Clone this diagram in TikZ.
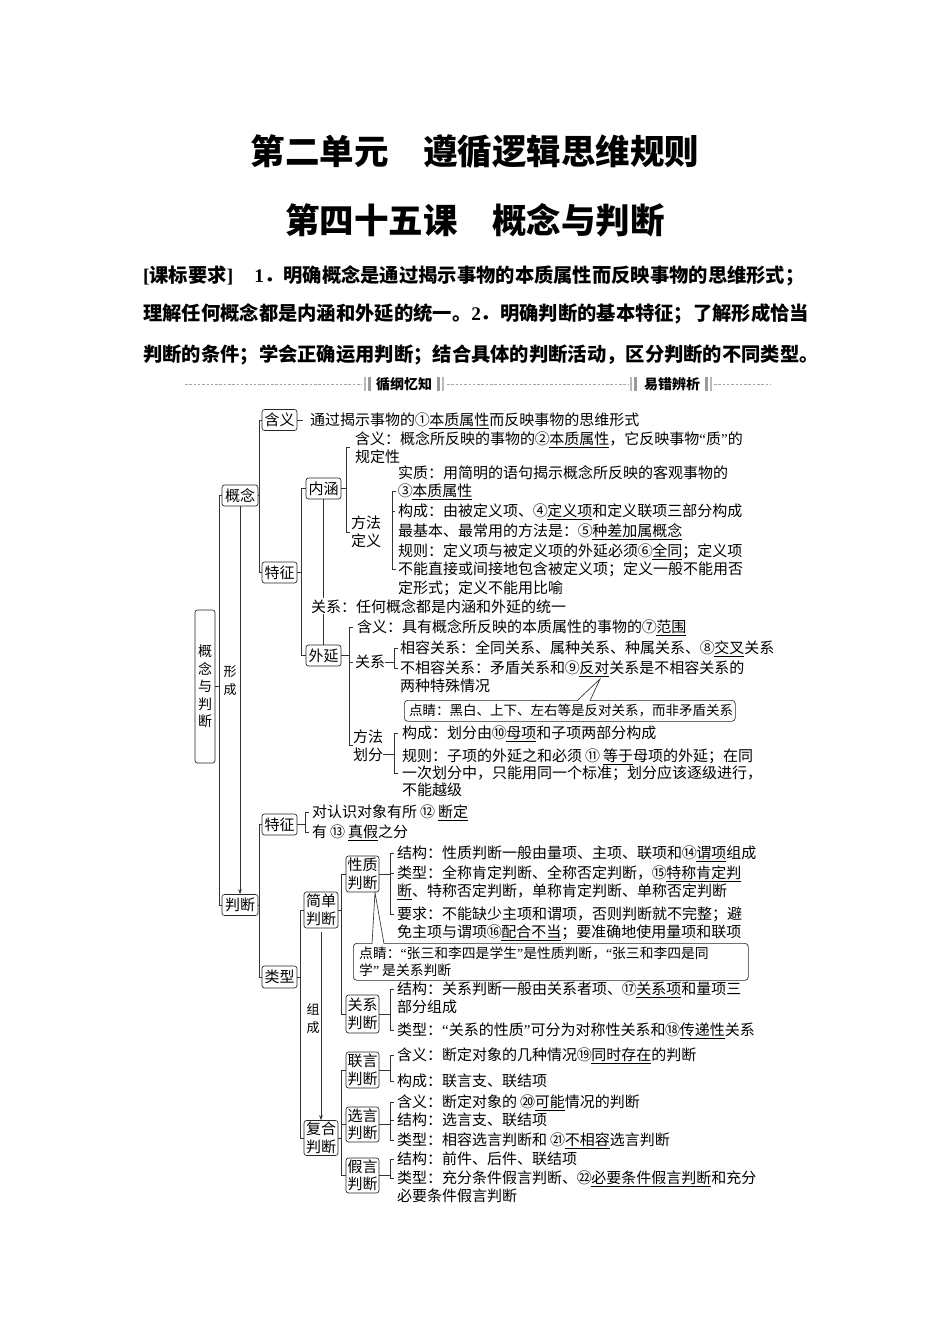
\documentclass[tikz,border=0pt]{standalone}
\usepackage{fontspec}
\setmainfont{Noto Sans CJK SC}
\newfontfamily\tnr{Liberation Serif}
\usetikzlibrary{arrows.meta}
\XeTeXlinebreaklocale "zh"
\XeTeXlinebreakskip=0pt plus 3pt
\newcommand\fs{\fontsize{15}{18}\selectfont}
\newcommand\ul[1]{\underline{#1}}
\newcommand\cn[1]{\makebox[0.95em][c]{#1}}
\newcommand\lqt{{\tnr “}}
\newcommand\rqt{{\tnr ”}}
\begin{document}
\begin{tikzpicture}[x=1pt,y=-1pt,
  box/.style={draw=black!85, rounded corners=2.5pt, line width=0.65pt, inner sep=0pt, font=\fs, align=center, minimum width=35pt, minimum height=21pt},
  boxb/.style={box, font=\fontsize{15}{17.5}\selectfont, minimum width=34pt, minimum height=36pt},
  t/.style={anchor=base west, inner sep=0pt, font=\fs},
  ln/.style={draw=black!80, line width=0.65pt},
  cal/.style={draw=black!85, rounded corners=3.5pt, line width=0.65pt, inner sep=0pt},
  lab/.style={inner sep=0pt, font=\fs, align=center},
  arr/.style={ln, -{Stealth[length=5pt,width=3.6pt]}},
  req/.style={anchor=base west, inner sep=0pt, font=\fontsize{19.3}{20}\selectfont\bfseries},
  sepl/.style={draw=gray!70, line width=0.5pt, dash pattern=on 2.5pt off 1.8pt},
]
\useasboundingbox (0,0) rectangle (950,1344);
\fill[white] (0,0) rectangle (950,1344);

% ---------- titles ----------
\node[inner sep=0pt, font=\fontsize{34.5}{36}\selectfont\bfseries] (title1) at (475,152) {第二单元\hspace{1em}遵循逻辑思维规则};
\node[inner sep=0pt, font=\fontsize{34.5}{36}\selectfont\bfseries] (title2) at (475,220) {第四十五课\hspace{1em}概念与判断};

\node[req] (req1) at (143,282.3) {\makebox[663pt][s]{{\tnr\bfseries[}课标要求{\tnr\bfseries]}\hspace{1.1em}{\tnr\bfseries 1}．明确概念是通过揭示事物的本质属性而反映事物的思维形式；}};
\node[req] (req2) at (143,320.3) {\makebox[663pt][s]{理解任何概念都是内涵和外延的统一。{\tnr\bfseries 2}．明确判断的基本特征；了解形成恰当}};
\node[req] (req3) at (143,361.3) {\makebox[663pt][s]{判断的条件；学会正确运用判断；结合具体的判断活动，区分判断的不同类型。}};

% ---------- separator ----------
\draw[sepl] (185,384) -- (362,384);
\fill[gray!55] (364,377) rectangle (366,391);
\fill[gray!80] (368,377) rectangle (371,391);
\node[inner sep=0pt, font=\fontsize{14}{15}\selectfont\bfseries] (sep1) at (404,384) {循纲忆知};
\fill[gray!80] (437,377) rectangle (440,391);
\fill[gray!55] (442,377) rectangle (444,391);
\draw[sepl] (447,384) -- (628,384);
\fill[gray!55] (630,377) rectangle (632,391);
\fill[gray!80] (634,377) rectangle (637,391);
\node[inner sep=0pt, font=\fontsize{14}{15}\selectfont\bfseries] (sep2) at (672,384) {易错辨析};
\fill[gray!80] (705,377) rectangle (708,391);
\fill[gray!55] (710,377) rectangle (712,391);
\draw[sepl] (714,384) -- (770,384);

% ---------- boxes ----------
\node[box, minimum width=20pt, minimum height=153pt, font=\fontsize{14}{17.5}\selectfont] (root) at (205,686.5) {概\\念\\与\\判\\断};
\node[box, minimum width=36pt] (gn) at (240,495.5) {概念};
\node[box, minimum width=36pt] (pd) at (240,905) {判断};
\node[box] (hy) at (279.5,420) {含义};
\node[box] (tz1) at (279.5,572.5) {特征};
\node[box] (nh) at (323.5,488.5) {内涵};
\node[box] (wy) at (323.5,655.5) {外延};
\node[box] (tz2) at (279.5,824.5) {特征};
\node[box, minimum height=22pt] (lx) at (279.5,977) {类型};
\node[boxb] (jd) at (321,910) {简单\\判断};
\node[boxb, minimum height=35pt] (fh) at (321,1138) {复合\\判断};
\node[boxb, minimum width=33pt] (xz) at (362.5,874) {性质\\判断};
\node[boxb, minimum width=33pt, minimum height=38pt] (gxpd) at (362.5,1014) {关系\\判断};
\node[boxb, minimum width=33pt] (ly) at (362.5,1070) {联言\\判断};
\node[boxb, minimum width=33pt, minimum height=35pt] (xy) at (362.5,1124.5) {选言\\判断};
\node[boxb, minimum width=33pt, minimum height=35pt] (jy) at (362.5,1175.5) {假言\\判断};

% ---------- labels ----------
\node[lab, font=\fontsize{13}{18}\selectfont] (xc) at (230,681) {形\\成};
\node[lab, font=\fontsize{13}{18}\selectfont] (zc) at (313,1019) {组\\成};
\node[lab] (ffdy) at (366,532) {方法\\定义};
\node[lab] (gxl) at (370,662) {关系};
\node[lab] (ffhf) at (368,745.5) {方法\\划分};

% ---------- texts ----------
\node[t] (t1) at (310,425.5) {通过揭示事物的\cn{①}\ul{本质属性}而反映事物的思维形式};
\node[t] (t2) at (355,444.5) {含义：概念所反映的事物的\cn{②}\ul{本质属性}，它反映事物\lqt 质\rqt 的};
\node[t] (t3) at (355,462.5) {规定性};
\node[t] (t4) at (398,478.5) {实质：用简明的语句揭示概念所反映的客观事物的};
\node[t] (t5) at (398,496.5) {\cn{③}\ul{本质属性}};
\node[t] (t6) at (398,516.5) {构成：由被定义项、\cn{④}\ul{定义项}和定义联项三部分构成};
\node[t] (t7) at (398,536.5) {最基本、最常用的方法是：\cn{⑤}\ul{种差加属概念}};
\node[t] (t8) at (398,556.5) {规则：定义项与被定义项的外延必须\cn{⑥}\ul{全同}；定义项};
\node[t] (t9) at (398,574.5) {不能直接或间接地包含被定义项；定义一般不能用否};
\node[t] (t10) at (398,593.5) {定形式；定义不能用比喻};
\node[t] (t11) at (311,612.5) {关系：任何概念都是内涵和外延的统一};
\node[t] (t12) at (357,632.5) {含义：具有概念所反映的本质属性的事物的\cn{⑦}\ul{范围}};
\node[t] (t13) at (400,653.5) {相容关系：全同关系、属种关系、种属关系、\cn{⑧}\ul{交叉}关系};
\node[t] (t14) at (400,673.5) {不相容关系：矛盾关系和\cn{⑨}\ul{反对}关系是不相容关系的};
\node[t] (t15) at (400,691.5) {两种特殊情况};
\node[t] (t16) at (402,738.5) {构成：划分由\cn{⑩}\ul{母项}和子项两部分构成};
\node[t] (t17) at (402,761.5) {规则：子项的外延之和必须 \cn{⑪} \ul{等于}母项的外延；在同};
\node[t] (t18) at (402,778.5) {一次划分中，只能用同一个标准；划分应该逐级进行，};
\node[t] (t19) at (402,795.5) {不能越级};
\node[t] (t20) at (312,817.5) {对认识对象有所 \cn{⑫} \ul{断定}};
\node[t] (t21) at (312,837.5) {有 \cn{⑬} \ul{真假}之分};
\node[t] (t22) at (397,858.5) {结构：性质判断一般由量项、主项、联项和\cn{⑭}\ul{谓项}组成};
\node[t] (t23) at (397,878.5) {类型：全称肯定判断、全称否定判断，\cn{⑮}\ul{特称肯定判}};
\node[t] (t24) at (397,896.5) {\ul{断}、特称否定判断，单称肯定判断、单称否定判断};
\node[t] (t25) at (397,919.5) {要求：不能缺少主项和谓项，否则判断就不完整；避};
\node[t] (t26) at (397,937.5) {免主项与谓项\cn{⑯}\ul{配合不当}；要准确地使用量项和联项};
\node[t] (t27) at (397,994.5) {结构：关系判断一般由关系者项、\cn{⑰}\ul{关系项}和量项三};
\node[t] (t28) at (397,1012.5) {部分组成};
\node[t] (t29) at (397,1035.5) {类型：\lqt 关系的性质\rqt 可分为对称性关系和\cn{⑱}\ul{传递性}关系};
\node[t] (t30) at (397,1060.5) {含义：断定对象的几种情况\cn{⑲}\ul{同时存在}的判断};
\node[t] (t31) at (397,1086.5) {构成：联言支、联结项};
\node[t] (t32) at (397,1107.5) {含义：断定对象的 \cn{⑳}\ul{可能}情况的判断};
\node[t] (t33) at (397,1125.5) {结构：选言支、联结项};
\node[t] (t34) at (397,1145.5) {类型：相容选言判断和 \cn{㉑}\ul{不相容}选言判断};
\node[t] (t35) at (397,1164.5) {结构：前件、后件、联结项};
\node[t] (t36) at (397,1183.5) {类型：充分条件假言判断、\cn{㉒}\ul{必要条件假言判断}和充分};
\node[t] (t37) at (397,1201.5) {必要条件假言判断};

% ---------- callouts ----------
\node[cal, minimum width=331pt, minimum height=21pt, anchor=north west] (dj1) at (404,700) {};
\node[inner sep=0pt, anchor=base west, font=\fontsize{13.5}{16}\selectfont] (dj1t) at (409,715.6) {点睛：黑白、上下、左右等是反对关系，而非矛盾关系};
\draw[ln, fill=white] (577,700.8) -- (600,679) -- (590,700.8);

\node[cal, minimum width=395pt, minimum height=37pt, anchor=north west] (dj2) at (353,943) {};
\node[inner sep=0pt, anchor=base west, font=\fontsize{13.8}{17}\selectfont] (dj2a) at (359,958) {点睛：\lqt 张三和李四是学生\rqt 是性质判断，\lqt 张三和李四是同};
\node[inner sep=0pt, anchor=base west, font=\fontsize{13.8}{17}\selectfont] (dj2b) at (359,975) {学\rqt\ 是关系判断};
\draw[ln, fill=white] (372,943.8) -- (375,892.5) -- (384,943.8);

% ---------- tree connectors ----------
\draw[ln] (root.east) -- ++(5,0);
\draw[ln] (gn.west) -- ++(-2,0) |- (pd.west);
\draw[arr] (gn.south) -- (pd.north);

\draw[ln] (gn.east) -- ++(2,0);
\draw[ln] (hy.west) -- ++(-2,0) |- (tz1.west);
\draw[ln] (hy.east) -- ++(6,0);
\draw[ln] (tz1.east) -- ++(5,0);
\draw[ln] (nh.west) -- ++(-4,0) |- (wy.west);
\draw[ln] (nh.south) -- ++(0,99);
\draw[ln] (wy.north) -- ++(0,-31);

\draw[ln] (nh.east) -- ++(5,0);
\draw[ln] (350,447) -- (346,447) -- (346,532) -- (350,532);
\draw[ln] (396,491) -- (392,491) -- (392,569) -- (396,569);
\draw[ln] (392,511) -- (395,511);

\draw[ln] (wy.east) -- ++(8,0);
\draw[ln] (353,627) -- (349,627) -- (349,745) -- (353,745);
\draw[ln] (349,662) -- (353,662);
\draw[ln] (gxl.east) -- ++(9,0);
\draw[ln] (398,648) -- (394,648) -- (394,668) -- (398,668);
\draw[ln] ([yshift=-8.5pt]ffhf.east) -- ++(11,0);
\draw[ln] (398,733) -- (394,733) -- (394,773) -- (398,773);

\draw[ln] (pd.east) -- ++(2,0);
\draw[ln] (tz2.west) -- ++(-2,0) |- (lx.west);
\draw[ln] (tz2.east) -- ++(8,0);
\draw[ln] (309,812) -- (305,812) -- (305,832) -- (309,832);
\draw[ln] (lx.east) -- ++(4,0);
\draw[ln] (jd.west) -- ++(-3,0) |- (fh.west);
\draw[arr] ([yshift=-4pt]jd.south) -- (fh.north);
\draw[ln] (jd.east) -- ++(4,0);
\draw[ln] (xz.west) -- ++(-4,0) |- (gxpd.west);
\draw[ln] (fh.east) -- ++(4,0);
\draw[ln] (ly.west) -- ++(-4,0) |- (jy.west);
\draw[ln] (xy.west) -- ++(-4,0);

\draw[ln] (xz.east) -- ++(11,0);
\draw[ln] (394,853) -- (390,853) -- (390,914) -- (394,914);
\draw[ln] (390,873) -- (394,873);
\draw[ln] (gxpd.east) -- ++(11,0);
\draw[ln] (394,989) -- (390,989) -- (390,1030) -- (394,1030);
\draw[ln] (ly.east) -- ++(11,0);
\draw[ln] (394,1055) -- (390,1055) -- (390,1081) -- (394,1081);
\draw[ln] (xy.east) -- ++(11,0);
\draw[ln] (394,1102) -- (390,1102) -- (390,1140) -- (394,1140);
\draw[ln] (390,1120) -- (394,1120);
\draw[ln] (jy.east) -- ++(11,0);
\draw[ln] (394,1159) -- (390,1159) -- (390,1178) -- (394,1178);
\end{tikzpicture}
\end{document}
